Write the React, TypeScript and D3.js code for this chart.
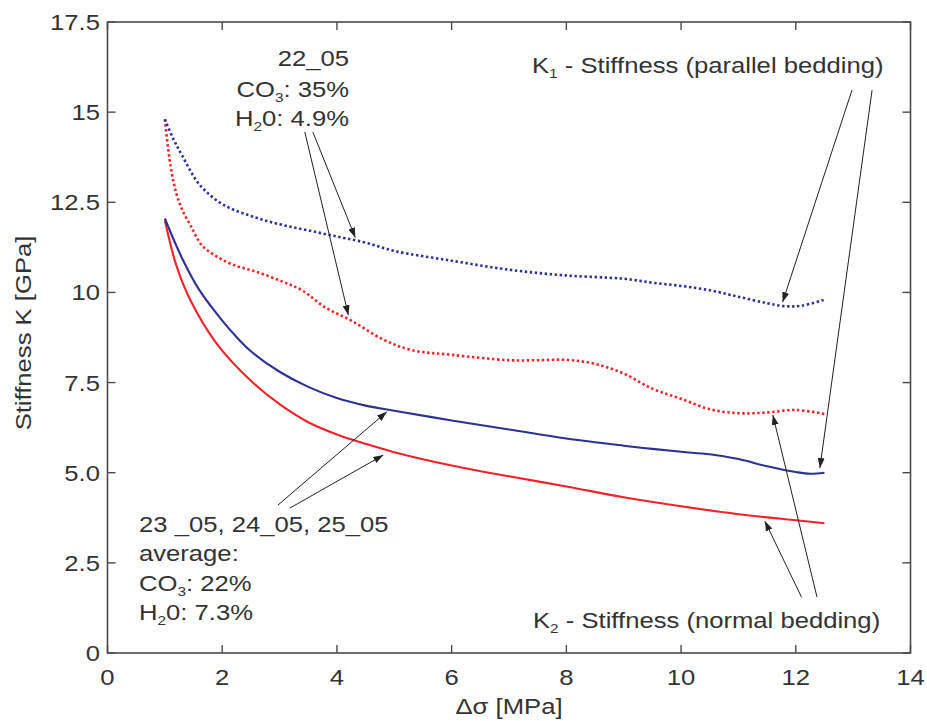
import React from "react";
import * as d3 from "d3";

const W = 927;
const H = 721;

// Axis domains / ticks
const xTicks = [0, 2, 4, 6, 8, 10, 12, 14];
const yTicks = [0, 2.5, 5, 7.5, 10, 12.5, 15, 17.5];
const yTickLabels = ["0", "2.5", "5.0", "7.5", "10", "12.5", "15", "17.5"];

// K1 - parallel bedding, sample 22_05 (blue dotted)
const k1_2205_x = [1, 1.15, 1.3, 1.6, 2, 2.5, 3, 3.5, 4, 4.5, 5, 6, 7, 8, 9, 9.5, 10, 10.5, 11, 11.5, 11.8, 12.1, 12.5];
const k1_2205_y = [14.8, 14.25, 13.8, 13.0, 12.45, 12.12, 11.89, 11.72, 11.55, 11.38, 11.15, 10.88, 10.63, 10.47, 10.38, 10.27, 10.18, 10.06, 9.88, 9.7, 9.62, 9.63, 9.8];

// K2 - normal bedding, sample 22_05 (red dotted)
const k2_2205_x = [1, 1.1, 1.2, 1.3, 1.45, 1.65, 1.9, 2.2, 2.6, 3.05, 3.4, 3.8, 4.25, 4.8, 5.3, 6, 7, 7.5, 8, 8.5, 9, 9.5, 10, 10.5, 11, 11.5, 12, 12.5];
const k2_2205_y = [14.8, 13.5, 12.75, 12.3, 11.85, 11.3, 11.0, 10.76, 10.57, 10.3, 10.05, 9.58, 9.22, 8.7, 8.4, 8.27, 8.12, 8.12, 8.13, 8.02, 7.75, 7.33, 7.05, 6.76, 6.65, 6.67, 6.74, 6.63];

// K1 - average 23_05, 24_05, 25_05 (blue solid)
const k1_avg_x = [1, 1.3, 1.6, 1.9, 2.2, 2.5, 3, 3.5, 4, 4.5, 5, 6, 7, 8, 9, 9.5, 10, 10.5, 11, 11.5, 12, 12.25, 12.5];
const k1_avg_y = [12.05, 10.95, 10.07, 9.42, 8.85, 8.37, 7.8, 7.38, 7.07, 6.86, 6.72, 6.45, 6.2, 5.95, 5.75, 5.66, 5.58, 5.51, 5.38, 5.18, 5.02, 4.97, 5.0];

// K2 - average 23_05, 24_05, 25_05 (red solid)
const k2_avg_x = [1, 1.2, 1.45, 1.9, 2.5, 3, 3.5, 4, 4.5, 5, 6, 7, 8, 9, 10, 11, 12, 12.5];
const k2_avg_y = [12.0, 10.75, 9.77, 8.59, 7.55, 6.9, 6.4, 6.06, 5.8, 5.57, 5.2, 4.9, 4.62, 4.32, 4.07, 3.85, 3.68, 3.6];

// Annotation arrows (data units): [x0, y0, x1(tip), y1(tip)]
const arrows2205 = [
  [3.44, 14.45, 4.2, 9.37],
  [3.58, 14.45, 4.32, 11.52],
];
const arrowsK1 = [
  [12.98, 15.61, 11.77, 9.73],
  [13.33, 15.61, 12.42, 5.13],
];
const arrowsK2 = [
  [12.1, 1.55, 11.46, 3.66],
  [12.37, 1.55, 11.6, 6.6],
];
const arrowsAvg = [
  [2.97, 4.1, 4.87, 6.69],
  [3.18, 4.02, 4.81, 5.49],
];

const BLUE = "#2e3192";
const RED = "#f2222a";
const TXT = "#333333";
const AX = "#4a4a4a";
const FONT = "'Liberation Sans', Arial, Helvetica, sans-serif";
const FS = 22.5;
const SX = 1.14;

const left = 107.5;
const right = 910.5;
const top = 22;
const bottom = 653;

const x = d3.scaleLinear().domain([0, 14]).range([left, right]);
const y = d3.scaleLinear().domain([0, 17.5]).range([bottom, top]);

function T({ px, py, anchor = "start", children, rotate = 0 }: any) {
  return (
    <text
      transform={`translate(${px},${py}) rotate(${rotate}) scale(${SX},1)`}
      textAnchor={anchor}
      fontSize={FS}
      fontFamily={FONT}
      fill={TXT}
    >
      {children}
    </text>
  );
}

function Sub({ s, rest }: any) {
  return (
    <>
      <tspan fontSize={13.5} dy={5}>
        {s}
      </tspan>
      <tspan dy={-5}>{rest}</tspan>
    </>
  );
}

export default function App() {
  const line = d3
    .line<[number, number]>()
    .x((d) => x(d[0]))
    .y((d) => y(d[1]))
    .curve(d3.curveCatmullRom.alpha(0.5));

  const zip = (xs: number[], ys: number[]) => xs.map((v, i) => [v, ys[i]] as [number, number]);

  const series = [
    { xs: k2_avg_x, ys: k2_avg_y, color: RED, dash: null },
    { xs: k1_avg_x, ys: k1_avg_y, color: BLUE, dash: null },
    { xs: k2_2205_x, ys: k2_2205_y, color: RED, dash: "2.4 2.6" },
    { xs: k1_2205_x, ys: k1_2205_y, color: BLUE, dash: "2.4 2.6" },
  ];

  const allArrows = [...arrows2205, ...arrowsK1, ...arrowsK2, ...arrowsAvg];

  return (
    <svg
      width={W}
      height={H}
      style={{ position: "absolute", left: 0, top: 0, background: "#fff" }}
    >
      <defs>
        <marker
          id="ah"
          markerUnits="userSpaceOnUse"
          markerWidth={10}
          markerHeight={8}
          refX={10}
          refY={3.5}
          orient="auto"
        >
          <path d="M0,0 L10,3.5 L0,7 Z" fill="#222" />
        </marker>
      </defs>

      {/* frame */}
      <rect
        x={left}
        y={top}
        width={right - left}
        height={bottom - top}
        fill="none"
        stroke={AX}
        strokeWidth={1.6}
      />

      {/* x ticks */}
      {xTicks.map((t) => (
        <g key={"xt" + t}>
          <line x1={x(t)} x2={x(t)} y1={bottom} y2={bottom - 8} stroke={AX} strokeWidth={1.4} />
          <line x1={x(t)} x2={x(t)} y1={top} y2={top + 8} stroke={AX} strokeWidth={1.4} />
          <T px={x(t)} py={685} anchor="middle">
            {String(t)}
          </T>
        </g>
      ))}

      {/* y ticks */}
      {yTicks.map((t, i) => (
        <g key={"yt" + t}>
          <line x1={left} x2={left + 8} y1={y(t)} y2={y(t)} stroke={AX} strokeWidth={1.4} />
          <line x1={right} x2={right - 8} y1={y(t)} y2={y(t)} stroke={AX} strokeWidth={1.4} />
          <T px={100} py={y(t) + 8} anchor="end">
            {yTickLabels[i]}
          </T>
        </g>
      ))}

      {/* axis labels */}
      <T px={509} py={714} anchor="middle">
        Δσ [MPa]
      </T>
      <T px={31} py={333} anchor="middle" rotate={-90}>
        Stiffness K [GPa]
      </T>

      {/* series */}
      {series.map((s, i) => (
        <path
          key={"s" + i}
          d={line(zip(s.xs, s.ys)) || ""}
          fill="none"
          stroke={s.color}
          strokeWidth={s.dash ? 2.6 : 2.1}
          strokeDasharray={s.dash || undefined}
        />
      ))}

      {/* arrows */}
      {allArrows.map((a, i) => (
        <line
          key={"a" + i}
          x1={x(a[0])}
          y1={y(a[1])}
          x2={x(a[2])}
          y2={y(a[3])}
          stroke="#222"
          strokeWidth={1}
          markerEnd="url(#ah)"
        />
      ))}

      {/* annotations */}
      <T px={349} py={66} anchor="end">
        22_05
      </T>
      <T px={349} py={96.5} anchor="end">
        CO<Sub s="3" rest=": 35%" />
      </T>
      <T px={349} py={126} anchor="end">
        H<Sub s="2" rest="0: 4.9%" />
      </T>

      <T px={532} py={73}>
        K<Sub s="1" rest=" - Stiffness (parallel bedding)" />
      </T>
      <T px={533} py={628}>
        K<Sub s="2" rest=" - Stiffness (normal bedding)" />
      </T>

      <T px={139} py={532}>
        23 _05, 24_05, 25_05
      </T>
      <T px={139} py={561}>
        average:
      </T>
      <T px={139} py={591}>
        CO<Sub s="3" rest=": 22%" />
      </T>
      <T px={139} py={620}>
        H<Sub s="2" rest="0: 7.3%" />
      </T>
    </svg>
  );
}
